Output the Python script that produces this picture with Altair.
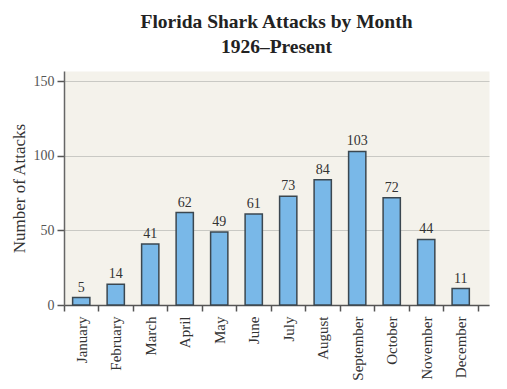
import altair as alt
import pandas as pd

months = ["January", "February", "March", "April", "May", "June", "July",
          "August", "September", "October", "November", "December"]
attacks = [5, 14, 41, 62, 49, 61, 73, 84, 103, 72, 44, 11]
y_ticks = [0, 50, 100, 150]

df = pd.DataFrame({"month": months, "attacks": attacks})

FONT = "Liberation Serif"

x = alt.X("month:N", sort=months, title=None,
          scale=alt.Scale(paddingInner=0, paddingOuter=0.16, align=0),
          axis=alt.Axis(tickBand="extent", labelAngle=270, labelFont=FONT,
                        labelFontSize=15, labelColor="#333", labelPadding=5,
                        tickSize=6, tickColor="#555", tickWidth=1.5,
                        domainColor="#555", domainWidth=1.5, grid=False))
y = alt.Y("attacks:Q", title="Number of Attacks",
          scale=alt.Scale(domain=[0, 157], nice=False),
          axis=alt.Axis(values=y_ticks, labelFont=FONT, labelFontSize=14,
                        labelColor="#555", labelPadding=3, tickSize=7,
                        tickColor="#555", tickWidth=1.5, domainColor="#666",
                        domainWidth=1.5, grid=True, gridColor="#c9c9c4",
                        gridWidth=1, titleFont=FONT, titleFontSize=17,
                        titleFontWeight="normal", titleColor="#333",
                        titlePadding=5))

bars = alt.Chart(df).mark_bar(
    width=alt.RelativeBandSize(0.5), color="#79b8e8",
    stroke="#3b4750", strokeWidth=1.5
).encode(x=x, y=y)

labels = alt.Chart(df).mark_text(
    font=FONT, fontSize=14, color="#333", baseline="bottom", dy=-3
).encode(x=alt.X("month:N", sort=months), y="attacks:Q", text="attacks:Q")

chart = alt.layer(bars, labels).properties(
    width=425, height=234,
    background="white",
    title=alt.TitleParams(["Florida Shark Attacks by Month", "1926\u2013Present"],
                          font=FONT, fontSize=19.5, fontWeight="bold",
                          color="#222", lineHeight=25, anchor="middle",
                          offset=14),
    autosize=alt.AutoSizeParams(type="none"),
    padding={"left": 56, "top": 63, "right": 10, "bottom": 78},
).configure_view(fill="#f4f2eb", stroke="transparent")

chart.save("out.html", embed_options={"renderer": "svg", "actions": False})
